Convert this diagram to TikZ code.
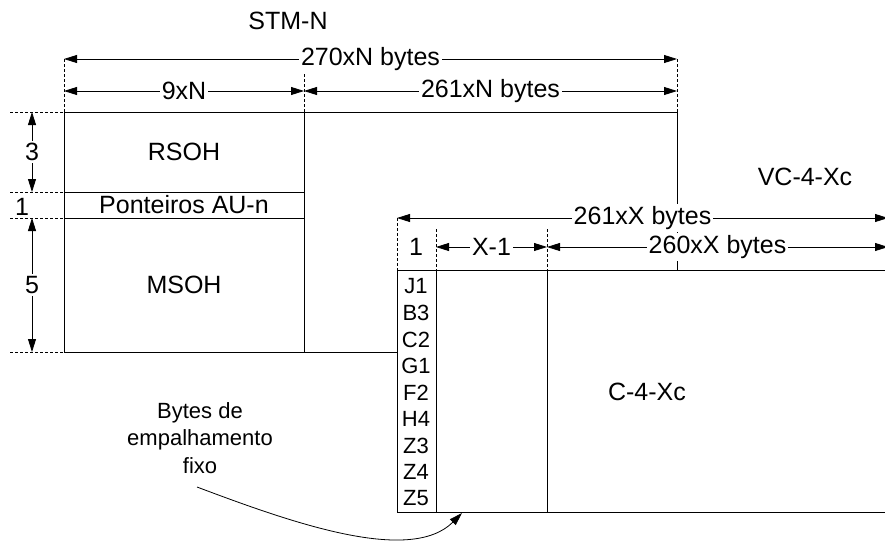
\documentclass[tikz,border=0pt]{standalone}
\usepackage{fontspec}
\setmainfont{Liberation Sans}
\usetikzlibrary{arrows.meta}

\tikzset{
  dim/.style={{Triangle[length=13pt,width=8pt]}-{Triangle[length=13pt,width=8pt]}},
  dimlabel/.style={fill=white, inner sep=2pt, font=\fontsize{25}{30}\selectfont},
  guide/.style={dash pattern=on 3pt off 2pt},
  big/.style={font=\fontsize{25}{30}\selectfont},
  small/.style={font=\fontsize{22}{27.5}\selectfont},
}

\begin{document}
\begin{tikzpicture}[x=1pt,y=-1pt,line width=0.8pt]
  \useasboundingbox (0,0) rectangle (885,541);
  \clip (0,0) rectangle (885,541);

  \node[big] (stm) at (288,21) {STM-N};
  \node[big] (vc) at (805,177) {VC-4-Xc};
  \node[big] (rsoh) at (184,152) {RSOH};
  \node[big] (ptr) at (184,205) {Ponteiros AU-n};
  \node[big] (msoh) at (184,285) {MSOH};
  \node[big] (c4) at (647,392) {C-4-Xc};

  \draw (64,112) -- (677,112);
  \draw (64,112) -- (64,352) -- (397,352);
  \draw (304,112) -- (304,352);
  \draw (64,192) -- (304,192);
  \draw (64,218) -- (304,218);
  \draw (677,112) -- (677,270);

  \draw (890,270) -- (397,270) -- (397,512) -- (890,512);
  \draw (436,270) -- (436,512);
  \draw (547,270) -- (547,512);

  \draw[guide] (64,59) -- (64,112);
  \draw[guide] (304,59) -- (304,112);
  \draw[guide] (677,59) -- (677,112);
  \foreach \y in {112,192,218,352}
    \draw[guide] (10,\y) -- (64,\y);
  \draw[guide] (397,218) -- (397,270);
  \draw[guide] (436,229) -- (436,270);
  \draw[guide] (547,229) -- (547,270);

  \draw[dim] (64,59) -- node[dimlabel] {270xN bytes} (677,59);
  \draw[dim] (64,91) -- node[dimlabel] {9xN} (304,91);
  \draw[dim] (304,91) -- node[dimlabel] {261xN bytes} (677,91);

  \draw[dim] (32,112) -- node[dimlabel] {3} (32,192);
  \node[big] (one) at (22,207) {1};
  \draw[dim] (32,218) -- node[dimlabel] {5} (32,352);

  \draw[dim] (397,218) -- node[dimlabel] {261xX bytes} (888,218);
  \node[big] (col1) at (416,247) {1};
  \draw[dim] (436,247) -- node[dimlabel] {X-1} (547,247);
  \draw[dim] (547,247) -- node[dimlabel] {260xX bytes} (888,247);

  \foreach \b [count=\i] in {J1,B3,C2,G1,F2,H4,Z3,Z4,Z5}
    \node[small] (b\i) at (416,260+26.5*\i) {\b};

  \node[small, align=center] (fix) at (200,438) {Bytes de\\empalhamento\\fixo};
  \coordinate (fixtail) at (197,487);
  \coordinate (fixhead) at (462,513);
  \draw[-{Triangle[length=13pt,width=8pt]}] (fixtail) .. controls (290,522) and (410,565) .. (fixhead);
\end{tikzpicture}
\end{document}
